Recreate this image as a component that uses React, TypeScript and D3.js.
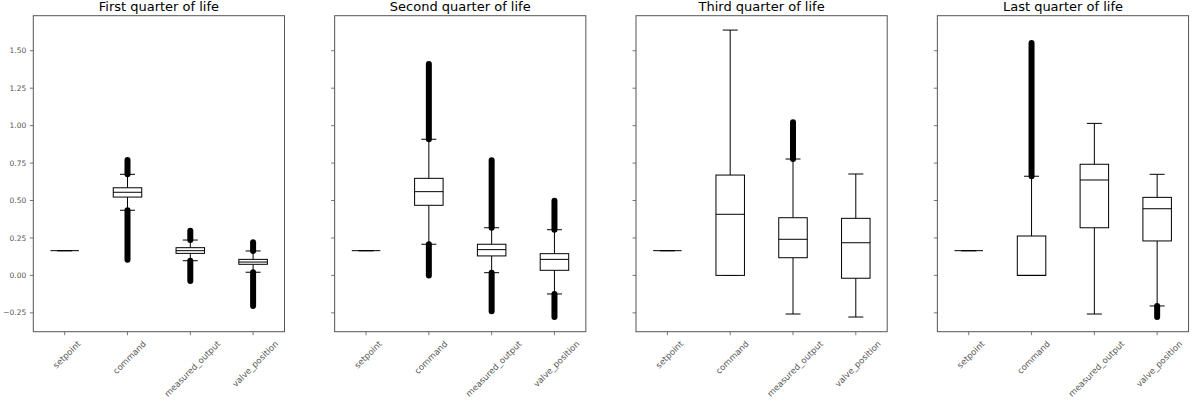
import React from "react";
import * as d3 from "d3";

const categories = ["setpoint", "command", "measured_output", "valve_position"];
const panelTitles = ["First quarter of life", "Second quarter of life", "Third quarter of life", "Last quarter of life"];
const yTicks = [-0.25, 0, 0.25, 0.5, 0.75, 1.0, 1.25, 1.5];

// per panel, per category
const q1Values = [
  [0.165, 0.523, 0.147, 0.074],
  [0.165, 0.468, 0.130, 0.034],
  [0.165, 0.0, 0.118, -0.019],
  [0.165, 0.0, 0.318, 0.230],
];
const medianValues = [
  [0.165, 0.555, 0.165, 0.089],
  [0.165, 0.559, 0.172, 0.107],
  [0.165, 0.408, 0.241, 0.218],
  [0.165, 0.0, 0.637, 0.445],
];
const q3Values = [
  [0.165, 0.585, 0.185, 0.107],
  [0.165, 0.648, 0.208, 0.145],
  [0.165, 0.670, 0.385, 0.381],
  [0.165, 0.263, 0.742, 0.521],
];
const whiskerLowValues = [
  [0.165, 0.435, 0.098, 0.021],
  [0.165, 0.208, 0.018, -0.124],
  [0.165, 0.0, -0.258, -0.278],
  [0.165, 0.0, -0.258, -0.204],
];
const whiskerHighValues = [
  [0.165, 0.675, 0.236, 0.163],
  [0.165, 0.909, 0.318, 0.305],
  [0.165, 1.638, 0.777, 0.677],
  [0.165, 0.662, 1.015, 0.675],
];
// extreme outliers (null = none)
const outlierMinValues = [
  [null, 0.105, -0.037, -0.204],
  [null, 0.0, -0.24, -0.278],
  [null, null, null, null],
  [null, null, null, -0.278],
];
const outlierMaxValues = [
  [null, 0.77, 0.298, 0.221],
  [null, 1.411, 0.768, 0.499],
  [null, null, 1.022, null],
  [null, 1.551, null, null],
];

const W = 1192;
const H = 403;
const panelLeft0 = 33.3;
const panelStep = 301.35;
const panelW = 251.2;
const plotTop = 15.7;
const plotBottom = 331.7;
const font = "'DejaVu Sans', sans-serif";
const yTickFont = 7.5;
const xTickFont = 8.5;

let ctx: CanvasRenderingContext2D | null = null;
function textWidth(s: string, size: number) {
  if (!ctx) {
    const c = document.createElement("canvas");
    ctx = c.getContext("2d");
  }
  if (!ctx) return s.length * size * 0.6;
  ctx.font = `${size}px 'DejaVu Sans'`;
  return ctx.measureText(s).width;
}

export default function App() {
  const y = d3.scaleLinear().domain([-0.376, 1.734]).range([plotBottom, plotTop]);
  const fmt = (v: number) => d3.format(".2f")(v).replace("-", "\u2212");
  const boxW = 28.5;
  const capW = 15;

  return (
    <svg width={W} height={H} style={{ position: "absolute", left: 0, top: 0, background: "#fff" }}>
      {panelTitles.map((title, p) => {
        const left = panelLeft0 + p * panelStep;
        const x = d3.scaleBand().domain(categories).range([left, left + panelW]);
        const cx = (c: string) => (x(c) as number) + x.bandwidth() / 2;
        return (
          <g key={p}>
            <text x={left + panelW / 2} y={11} textAnchor="middle" fontFamily={font} fontSize={13} fill="#000">
              {title}
            </text>
            {/* y ticks */}
            {yTicks.map((t) => (
              <g key={t}>
                <line x1={left - 3.5} x2={left} y1={y(t)} y2={y(t)} stroke="#555" strokeWidth={0.8} />
                {p === 0 && (
                  <text x={left - 7} y={y(t)} dy="0.35em" textAnchor="end" fontFamily={font} fontSize={yTickFont} fill="#555">
                    {fmt(t)}
                  </text>
                )}
              </g>
            ))}
            {/* x ticks */}
            {categories.map((c) => {
              const tx = cx(c);
              const w = textWidth(c, xTickFont);
              const bb = (w + xTickFont * 1.1) * Math.SQRT1_2;
              const lx = tx + 2;
              const cy = 339 + bb / 2;
              return (
                <g key={c}>
                  <line x1={tx} x2={tx} y1={plotBottom} y2={plotBottom + 3.5} stroke="#555" strokeWidth={0.8} />
                  <text
                    x={lx}
                    y={cy}
                    textAnchor="middle"
                    dominantBaseline="central"
                    transform={`rotate(-45 ${lx} ${cy})`}
                    fontFamily={font}
                    fontSize={xTickFont}
                    fill="#555"
                  >
                    {c}
                  </text>
                </g>
              );
            })}
            {/* boxes */}
            {categories.map((c, i) => {
              const mx = cx(c);
              const q1 = q1Values[p][i];
              const q3 = q3Values[p][i];
              const med = medianValues[p][i];
              const wl = whiskerLowValues[p][i];
              const wh = whiskerHighValues[p][i];
              const oMin = outlierMinValues[p][i];
              const oMax = outlierMaxValues[p][i];
              return (
                <g key={c}>
                  {oMax !== null && (
                    <line x1={mx} x2={mx} y1={y(wh)} y2={y(oMax)} stroke="#000" strokeWidth={6} strokeLinecap="round" />
                  )}
                  {oMin !== null && (
                    <line x1={mx} x2={mx} y1={y(wl)} y2={y(oMin)} stroke="#000" strokeWidth={6} strokeLinecap="round" />
                  )}
                  <line x1={mx} x2={mx} y1={y(q3)} y2={y(wh)} stroke="#000" strokeWidth={1} />
                  <line x1={mx} x2={mx} y1={y(q1)} y2={y(wl)} stroke="#000" strokeWidth={1} />
                  <line x1={mx - capW / 2} x2={mx + capW / 2} y1={y(wh)} y2={y(wh)} stroke="#000" strokeWidth={1} />
                  <line x1={mx - capW / 2} x2={mx + capW / 2} y1={y(wl)} y2={y(wl)} stroke="#000" strokeWidth={1} />
                  <rect
                    x={mx - boxW / 2}
                    y={y(q3)}
                    width={boxW}
                    height={Math.max(0, y(q1) - y(q3))}
                    fill="#fff"
                    stroke="#000"
                    strokeWidth={1}
                  />
                  <line x1={mx - boxW / 2} x2={mx + boxW / 2} y1={y(med)} y2={y(med)} stroke="#000" strokeWidth={1} />
                </g>
              );
            })}
            <rect x={left} y={plotTop} width={panelW} height={plotBottom - plotTop} fill="none" stroke="#555" strokeWidth={1} />
          </g>
        );
      })}
    </svg>
  );
}
